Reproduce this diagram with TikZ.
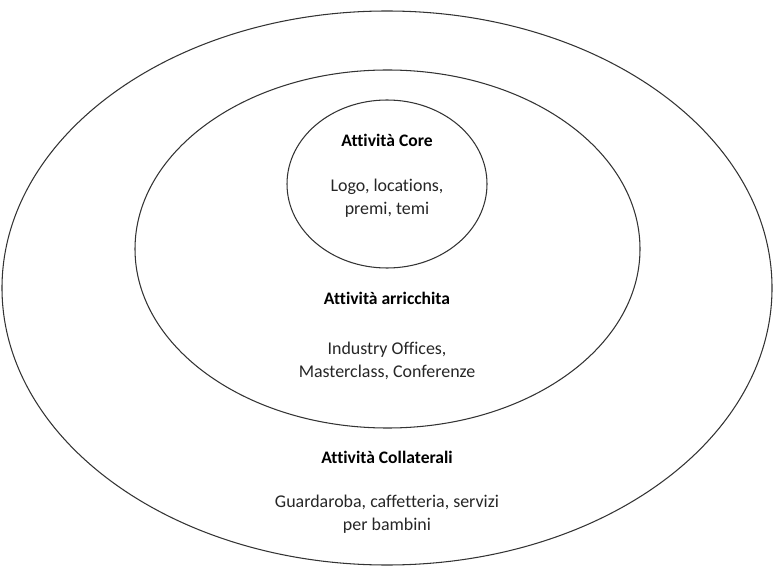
\documentclass[tikz,border=0pt]{standalone}
\usepackage{fontspec}
\setmainfont{Carlito}[Ligatures={NoCommon}]
\usepackage{tikz}
\usetikzlibrary{positioning}

\begin{document}
\begin{tikzpicture}[
    ring/.style={draw=black!80, line width=0.6pt},
    title/.style={font=\fontsize{10}{13}\selectfont\bfseries, align=center, inner sep=0pt},
    body/.style={font=\fontsize{10.2}{13}\selectfont, text=black!85, align=center, inner sep=0pt}
]
\useasboundingbox (0,0) rectangle (15.48,-11.38);
% three nested rings
\draw[ring] (7.74,-5.76) ellipse (7.70 and 5.54);
\draw[ring] (7.75,-4.98) ellipse (5.05 and 3.58);
\draw[ring] (7.74,-3.68) ellipse (2.00 and 1.68);

\node[title] (coreT) at (7.74,-2.80) {Attività Core};
\node[body] (coreB) at (7.74,-3.96) {Logo, locations,\\premi, temi};
\node[title] (ricT) at (7.74,-5.96) {Attività arricchita};
\node[body] (ricB) at (7.74,-7.22) {Industry Offices,\\Masterclass, Conferenze};
\node[title] (colT) at (7.74,-9.14) {Attività Collaterali};
\node[body] (colB) at (7.74,-10.28) {Guardaroba, caffetteria, servizi\\per bambini};
\end{tikzpicture}
\end{document}
